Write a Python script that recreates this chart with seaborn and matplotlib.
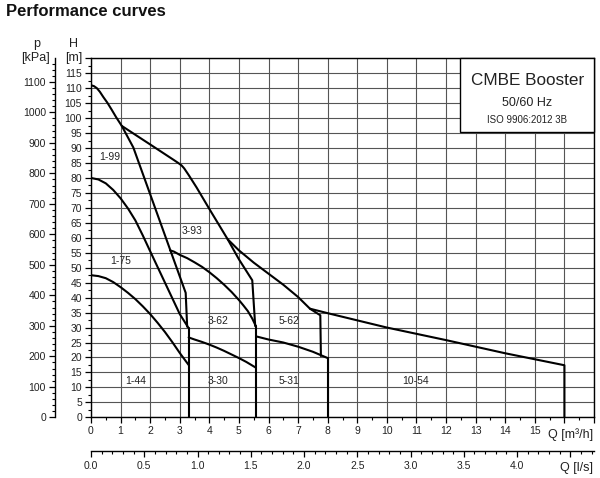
import numpy as np
import pandas as pd
import matplotlib
matplotlib.use("Agg")
import matplotlib.pyplot as plt
import seaborn as sns
from matplotlib.ticker import MultipleLocator
from matplotlib.patches import Rectangle

# ---------------- data ----------------
q_1_99 = [0.0, 0.1, 0.2, 0.3, 0.42, 0.55, 0.7, 0.85, 1.04, 1.43, 3.2, 3.25]
h_1_99 = [111.0, 110.7, 110.0, 108.8, 107.0, 105.2, 102.8, 100.3, 97.4, 90.2, 41.6, 30.3]

q_1_75 = [0.0, 0.25, 0.5, 0.75, 1.0, 1.25, 1.5, 1.75, 2.0, 2.5, 3.0, 3.3]
h_1_75 = [80.0, 79.5, 78.2, 76.0, 73.2, 69.8, 65.8, 60.8, 55.5, 45.0, 34.5, 29.8]

q_1_44 = [0.0, 0.25, 0.5, 0.75, 1.0, 1.25, 1.5, 1.75, 2.0, 2.25, 2.5, 2.75, 3.0, 3.3]
h_1_44 = [47.5, 47.2, 46.5, 45.2, 43.5, 41.6, 39.5, 37.1, 34.5, 31.6, 28.5, 25.1, 21.5, 17.5]

q_3_93 = [1.04, 2.0, 2.8, 2.95, 3.06, 3.15, 3.3, 3.57, 4.02, 4.62, 5.0, 5.45, 5.55]
h_3_93 = [97.4, 91.2, 86.0, 85.0, 84.2, 83.2, 81.0, 76.8, 69.3, 59.5, 52.8, 45.8, 30.5]

q_3_62 = [2.67, 2.8, 3.0, 3.25, 3.5, 3.75, 4.0, 4.25, 4.5, 4.75, 5.0, 5.15, 5.3, 5.45, 5.57]
h_3_62 = [55.8, 55.4, 54.3, 53.2, 51.8, 50.3, 48.5, 46.5, 44.3, 41.9, 39.2, 37.4, 35.5, 33.0, 30.5]

q_3_30 = [3.3, 3.5, 3.75, 4.0, 4.25, 4.5, 4.75, 5.0, 5.25, 5.57]
h_3_30 = [26.7, 26.0, 25.2, 24.3, 23.3, 22.2, 21.0, 19.8, 18.5, 16.6]

q_5_62 = [4.62, 5.0, 5.5, 6.0, 6.5, 7.0, 7.4, 7.75, 7.77]
h_5_62 = [59.5, 55.8, 51.7, 48.0, 44.3, 40.2, 36.3, 34.1, 20.5]

q_5_31 = [5.6, 6.0, 6.5, 7.0, 7.5, 8.0]
h_5_31 = [27.0, 26.0, 25.0, 23.6, 21.9, 19.8]

q_10_54 = [7.4, 8.0, 9.0, 10.0, 11.0, 12.0, 13.0, 14.0, 15.0, 16.0, 16.0]
h_10_54 = [36.3, 34.8, 32.4, 30.0, 27.9, 25.8, 23.6, 21.4, 19.4, 17.4, 0.0]

# boundary lines (max flow of each pump family)
q_edge_1 = [3.3, 3.3]
h_edge_1 = [29.8, 0.0]
q_edge_3 = [5.57, 5.57]
h_edge_3 = [30.5, 0.0]
q_edge_5 = [8.0, 8.0]
h_edge_5 = [19.8, 0.0]

curves = [
    (q_1_99, h_1_99), (q_1_75, h_1_75), (q_1_44, h_1_44),
    (q_3_93, h_3_93), (q_3_62, h_3_62), (q_3_30, h_3_30),
    (q_5_62, h_5_62), (q_5_31, h_5_31), (q_10_54, h_10_54),
    (q_edge_1, h_edge_1), (q_edge_3, h_edge_3), (q_edge_5, h_edge_5),
]

label_text = ["1-99", "1-75", "1-44", "3-93", "3-62", "3-30", "5-62", "5-31", "10-54"]
label_q = [0.64, 1.01, 1.51, 3.43, 4.28, 4.28, 6.70, 6.70, 10.97]
label_h = [87.0, 52.2, 12.2, 62.3, 32.2, 12.2, 32.2, 12.2, 12.2]

q_ticks = list(range(0, 18))
q_ticklabels = [str(v) for v in range(0, 16)] + ["", ""]
h_ticks = list(range(0, 121, 5))
h_ticklabels = [str(v) for v in range(0, 116, 5)] + [""]
p_ticks = list(range(0, 1101, 100))
ls_ticks = [0.0, 0.5, 1.0, 1.5, 2.0, 2.5, 3.0, 3.5, 4.0, 4.5]
ls_ticklabels = ["0.0", "0.5", "1.0", "1.5", "2.0", "2.5", "3.0", "3.5", "4.0", ""]

# ---------------- style ----------------
sns.set_theme(style="ticks")
plt.rcParams["font.family"] = ["Liberation Sans", "DejaVu Sans"]
plt.rcParams["axes.edgecolor"] = "black"
plt.rcParams["xtick.color"] = "black"
plt.rcParams["ytick.color"] = "black"
plt.rcParams["xtick.labelcolor"] = "#222222"
plt.rcParams["ytick.labelcolor"] = "#222222"
plt.rcParams["text.color"] = "#222222"

W, H = 600, 478
fig = plt.figure(figsize=(6.0, 4.78), dpi=100)
x0, x1, y0, y1 = 91, 594, 417.3, 58.3
ax = fig.add_axes([x0 / W, 1 - y0 / H, (x1 - x0) / W, (y0 - y1) / H])
ax.set_xlim(0, 17)
ax.set_ylim(0, 120)

for q, h in curves:
    sns.lineplot(x=q, y=h, ax=ax, color="black", lw=1.5, sort=False,
                 estimator=None, legend=False, zorder=3)

for t, q, h in zip(label_text, label_q, label_h):
    ax.text(q, h, t, fontsize=7.5, ha="center", va="center", color="#222222", zorder=4)

# grid & ticks
ax.set_xticks(q_ticks)
ax.set_xticklabels(q_ticklabels)
ax.set_yticks(h_ticks)
ax.set_yticklabels(h_ticklabels)
ax.xaxis.set_minor_locator(MultipleLocator(0.5))
ax.yaxis.set_minor_locator(MultipleLocator(2.5))
ax.grid(True, which="major", color="#555555", lw=0.8, zorder=1)
ax.set_axisbelow(True)
ax.tick_params(which="major", direction="out", length=4.5, width=0.9, labelsize=7.5, pad=2)
ax.tick_params(which="minor", direction="out", length=2.5, width=0.8)
for s in ax.spines.values():
    s.set_linewidth(1.0)
    s.set_color("black")
ax.set_xlabel("")
ax.set_ylabel("")

# pressure axis (kPa)
secy = ax.secondary_yaxis(-(x0 - 55) / (x1 - x0),
                          functions=(lambda hh: hh * 9.81, lambda pp: pp / 9.81))
secy.set_yticks(p_ticks)
secy.set_yticklabels([str(v) for v in p_ticks])
secy.yaxis.set_minor_locator(MultipleLocator(20))
secy.tick_params(which="major", direction="out", length=4.5, width=0.9, labelsize=7.5, pad=2)
secy.tick_params(which="minor", direction="out", length=2.5, width=0.8)
secy.spines["left"].set_linewidth(1.0)

# flow axis (l/s)
secx = ax.secondary_xaxis(-(451 - y0) / (y0 - y1),
                          functions=(lambda qq: qq / 3.6, lambda ll: ll * 3.6))
secx.set_xticks(ls_ticks)
secx.set_xticklabels(ls_ticklabels)
secx.xaxis.set_minor_locator(MultipleLocator(0.1))
secx.tick_params(which="major", direction="out", length=4.5, width=0.9, labelsize=7.5, pad=3)
secx.tick_params(which="minor", direction="out", length=2.5, width=0.8)
secx.spines["bottom"].set_linewidth(1.0)

# info box
ax.add_patch(Rectangle((12.48, 95.2), 17 - 12.48, 120 - 95.2, facecolor="white",
                       edgecolor="black", lw=1.0, zorder=5, clip_on=False))
ax.text(14.75, 112.7, "CMBE Booster", fontsize=12.3, ha="center", va="center", zorder=6)
ax.text(14.75, 105.2, "50/60 Hz", fontsize=9, ha="center", va="center", zorder=6)
ax.text(14.75, 99.4, "ISO 9906:2012 3B", fontsize=7, ha="center", va="center", zorder=6)

# figure texts
fig.text(6 / W, 1 - 16.5 / H, "Performance curves", fontsize=12, weight="bold",
         ha="left", va="baseline", color="#111111")
fig.text(36.7 / W, 1 - 44 / H, "p", fontsize=9, ha="center", va="center")
fig.text(35 / W, 1 - 58.3 / H, "[kPa]", fontsize=9, ha="center", va="center")
fig.text(73.3 / W, 1 - 44 / H, "H", fontsize=9, ha="center", va="center")
fig.text(74 / W, 1 - 58.3 / H, "[m]", fontsize=9, ha="center", va="center")
fig.text(593 / W, 1 - 435 / H, "Q [m\u00b3/h]", fontsize=9, ha="right", va="center")
fig.text(593 / W, 1 - 468 / H, "Q [l/s]", fontsize=9, ha="right", va="center")

fig.savefig("out.png", dpi=100, facecolor="white")
